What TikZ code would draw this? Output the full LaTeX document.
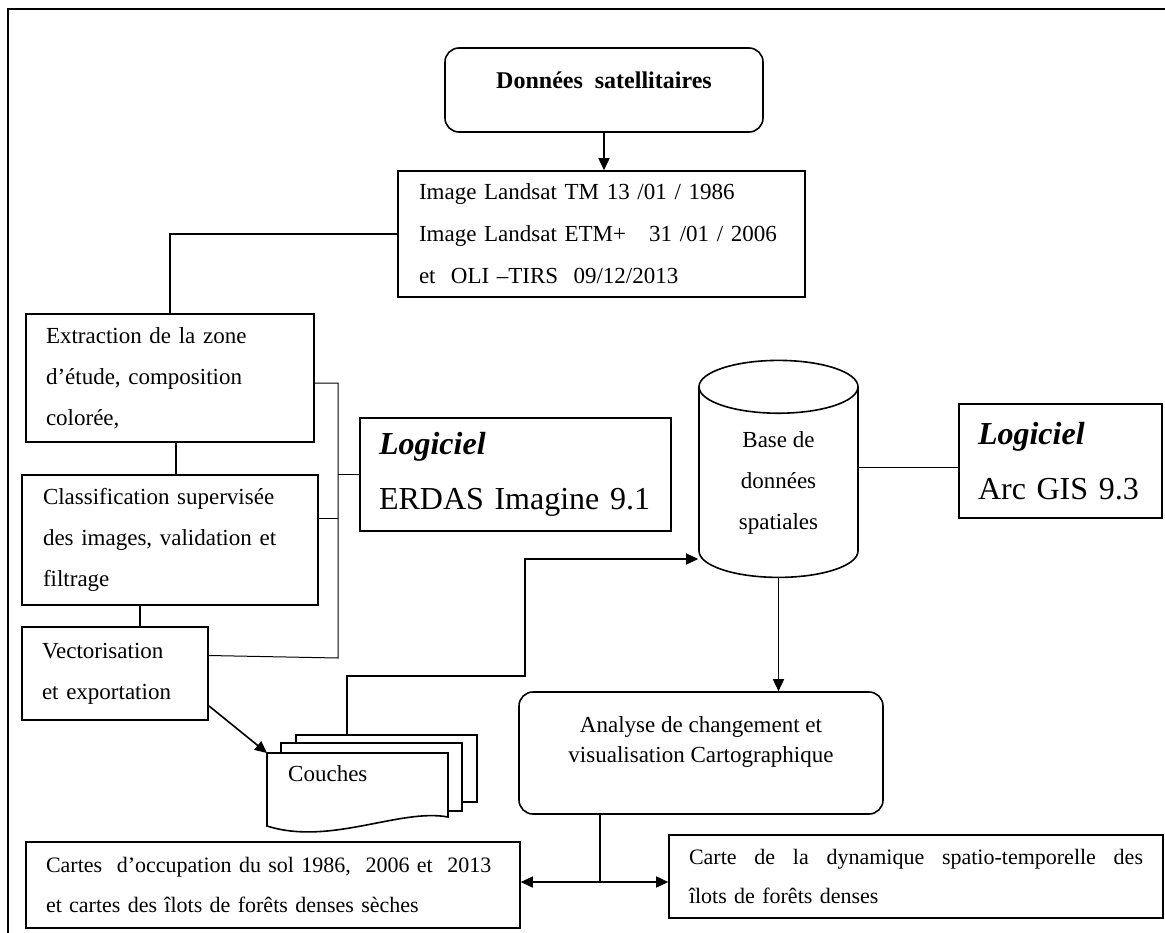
\documentclass[tikz,border=0pt]{standalone}
\usepackage{fontspec}
\setmainfont{Liberation Serif}
\usetikzlibrary{arrows.meta,shapes.geometric}
\newcommand\boxfont{\fontsize{23}{41}\selectfont}
\newcommand\softfont{\fontsize{32}{55}\selectfont}
\tikzset{
  block/.style={draw, rectangle, line width=1.6pt, inner xsep=20pt, inner ysep=0pt, align=left, font=\boxfont},
  roundblock/.style={draw, rectangle, rounded corners=14pt, line width=1.6pt, inner sep=0pt, align=center},
  softbox/.style={draw, rectangle, line width=1.2pt, inner xsep=19pt, inner ysep=0pt, align=left, font=\softfont},
  link/.style={line width=1.6pt},
  thinlink/.style={line width=1pt},
  arr/.style={line width=1.6pt, -{Triangle[length=12pt,width=11pt]}},
  sheet/.style={draw, line width=1.6pt, fill=white}
}
\begin{document}
\begin{tikzpicture}[x=1pt,y=-1pt]
  \useasboundingbox (0,0) rectangle (1165,932);
  \draw[line width=2pt] (8,945) -- (8,9) -- (1175,9);

  % sources
  \node[roundblock, minimum width=318pt, minimum height=84pt, font=\bfseries\fontsize{24}{20}\selectfont] (donnees) at (604,90) {Données\ \ satellitaires\\[0pt]\mbox{}};
  \node[block, text width=365pt, inner xsep=21pt, minimum height=126pt, font=\fontsize{23}{42}\selectfont] (imgs) at (601.5,234) {Image Landsat TM 13 /01 / 1986\\Image Landsat ETM+\ \ \ 31 /01 / 2006\\et\ \ OLI –TIRS\ \ 09/12/2013};

  % traitements
  \node[block, text width=248pt, minimum height=128pt] (extract) at (170,378) {Extraction de la zone\\d’étude, composition\\colorée,};
  \node[block, text width=254pt, inner xsep=21pt, minimum height=130pt] (classif) at (170,540) {Classification supervisée\\des images, validation et\\filtrage};
  \node[block, text width=146pt, minimum height=93pt] (vector) at (115,673.5) {Vectorisation\\et exportation};
  \node[softbox, text width=273pt, minimum height=113pt] (erdas) at (515.5,474.5) {\textbf{\textit{Logiciel}}\\ERDAS Imagine 9.1};

  % base
  \node[cylinder, draw, shape border rotate=90, aspect=0.667, minimum width=159pt, minimum height=217pt, line width=1.6pt, inner sep=0pt, align=center, font=\boxfont] (base) at (778.5,482.5) {Base de\\données\\spatiales};
  \node[softbox, text width=165pt, minimum height=114pt] (arcgis) at (1060.5,461) {\textbf{\textit{Logiciel}}\\Arc GIS 9.3};

  % couches
  \draw[sheet] (296,735) rectangle (477,802);
  \draw[sheet] (281,743) rectangle (462,811);
  \draw[sheet] (267,753) -- (448,753) -- (448,817) .. controls (400,808) and (330,846) .. (267,826) -- cycle;
  \node[font=\boxfont, anchor=west, inner sep=0pt] (couches) at (288,774) {Couches};
  \coordinate (sheettop) at (347,735);
  \coordinate (sheetcorner) at (267,753);
  \coordinate (relay) at (525,676);

  % resultats
  \node[roundblock, minimum width=364pt, minimum height=122pt, font=\fontsize{23}{30}\selectfont] (analyse) at (701,753) {Analyse de changement et\\visualisation Cartographique\\[-3pt]\mbox{}};
  \node[block, text width=454pt, minimum height=86pt, font=\fontsize{22}{40}\selectfont] (cartes) at (273,885) {Cartes\ \ d’occupation du sol 1986,\ \ 2006 et\ \ 2013\\et cartes des îlots de forêts denses sèches};
  \node[block, text width=454pt, minimum height=83pt, font=\fontsize{22}{39}\selectfont] (carte) at (916,876.5) {\makebox[454pt][s]{\spaceskip=0pt Carte de la dynamique spatio-temporelle des}\\îlots de forêts denses};

  \draw[arr] (donnees.south) -- (donnees.south |- imgs.north);
  \draw[link] (imgs.west) -| (extract.north);
  \draw[link] ([xshift=6pt]extract.south) -- ([xshift=6pt]extract.south |- classif.north);
  \draw[link] ([xshift=25pt]vector.north) -- ([xshift=25pt]vector.north |- classif.south);
  \coordinate (brtop) at (338,383);
  \coordinate (brbot) at (338,658);
  \draw[thinlink] (extract.east |- brtop) -- (brtop) -- (brbot) -- ([yshift=18pt]vector.east);
  \draw[thinlink] ([yshift=22pt]classif.east) -- ([yshift=22pt]classif.east -| brtop);
  \draw[thinlink] (erdas.west) -- (erdas.west -| brtop);
  \draw[thinlink] ([yshift=15pt]base.east) -- ([yshift=15pt]base.east -| arcgis.west);
  \draw[arr] (sheettop) |- (relay) |- ([yshift=-76.5pt]base.west);
  \draw[arr] (base.south) -- (base.south |- analyse.north);
  \draw[arr] ([yshift=15pt]vector.south east) -- (sheetcorner);
  \coordinate (split) at (600,882);
  \draw[link] (analyse.south -| split) -- (split);
  \draw[link, {Triangle[length=12pt,width=11pt]}-{Triangle[length=12pt,width=11pt]}] (split -| cartes.east) -- (split -| carte.west);
\end{tikzpicture}
\end{document}
